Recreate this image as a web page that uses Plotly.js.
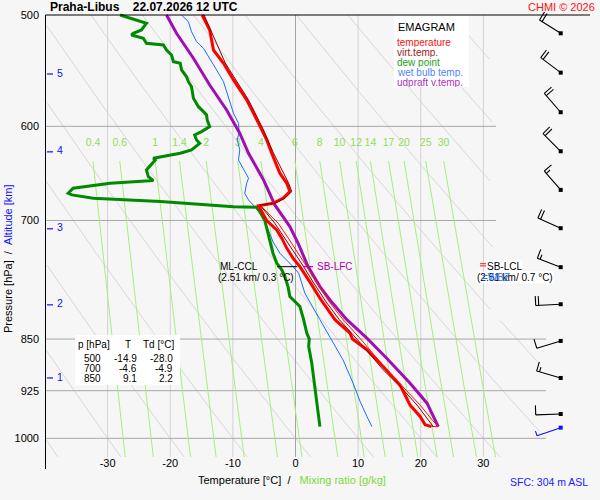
<!DOCTYPE html>
<html><head><meta charset="utf-8">
<script src="https://cdn.plot.ly/plotly-3.0.1.min.js"></script>
<style>html,body{margin:0;padding:0;background:#f6f6f6;}#chart{width:600px;height:500px;}</style>
</head><body><div id="chart"></div>
<script>
// ================= DATA =================
const stationName = 'Praha-Libus';
const runLabel = '22.07.2026 12 UTC';
const copyrightLabel = 'CHMI © 2026';
const sfcLabel = 'SFC: 304 m ASL';

// temperature profile
const tempP = [500, 512.4, 529.5, 541.1, 556.1, 565.3, 574.6, 587.3, 603.6, 613.5, 627, 647.8, 658.5, 667.6, 675, 680.5, 683.4, 691.7, 700, 710.9, 720.5, 732.4, 744.5, 754.9, 765.2, 777.8, 795, 823.4, 841.7, 850, 864.9, 889, 916.5, 947, 964.8, 978.1, 981];
const tempT = [-14.9, -13.7, -13.1, -11.5, -9.9, -8.9, -7.8, -6.7, -5.4, -4.6, -3.8, -2.5, -1.4, -0.9, -2.0, -3.6, -5.9, -5.3, -4.6, -3.0, -2.2, -1.4, -0.4, 0.7, 1.5, 2.6, 3.9, 6.3, 8.7, 9.1, 11.4, 14.0, 16.7, 18.3, 19.9, 20.7, 21.7];

// virtual temperature
const tvP = [500, 541.1, 574.6, 603.6, 627, 658.5, 667.6, 675, 680.5, 682.4, 703.2, 720.5, 738.5, 754.9, 771.6, 800, 823.4, 850, 893.9, 921.4, 947, 969.5, 981];
const tvT = [-14.6, -11.2, -7.5, -5.1, -3.5, -1.1, -0.6, -1.7, -3.3, -5.7, -3.3, -1.7, -0.1, 1.3, 2.6, 4.9, 7.0, 9.8, 14.0, 17.0, 19.4, 21.2, 22.0];

// thin red outline on the right of the boundary layer
const outlineP = [682.4, 703.2, 720.5, 738.5, 754.9, 771.6, 800, 823.4, 850, 893.9, 919, 947, 969.5, 981, 981];
const outlineT = [-5.7, -2.75, -1.15, 0.45, 1.8, 3.1, 5.4, 7.6, 10.4, 14.6, 17.2, 19.9, 21.75, 22.8, 21.7];

// dew point
const dewP = [500, 506.8, 512.4, 515.2, 516.6, 519.4, 523.7, 525.2, 529.5, 533.8, 539.7, 541.1, 547.1, 553.2, 557.7, 562.3, 573.1, 581, 585.7, 588.9, 593.8, 600.3, 605.2, 608.5, 613.5, 616.9, 623.6, 627, 632.2, 634, 644.4, 651.5, 655.7, 658.5, 664, 669.5, 671.3, 675, 678.7, 682.4, 684.3, 684.9, 689.8, 700, 709, 722.5, 738.5, 750.6, 758.9, 767.3, 780, 792.9, 799.4, 805.9, 823.4, 841.7, 850, 860.2, 884.3, 919, 954.3, 981];
const dewTd = [-28.0, -23.8, -24.6, -25.9, -26.2, -24.3, -23.8, -21.1, -20.6, -19.8, -19.5, -18.4, -18.2, -17.4, -17.1, -16.6, -16.3, -15.5, -14.7, -14.2, -14.1, -13.7, -15.0, -16.1, -15.8, -15.3, -16.6, -18.4, -22.7, -22.4, -23.8, -23.5, -22.7, -29.6, -35.5, -36.3, -35.7, -32.3, -21.6, -14.2, -9.9, -6.2, -5.7, -4.9, -4.6, -4.1, -3.6, -3.0, -2.2, -1.7, -1.2, -0.9, -0.1, 0.7, 1.3, 1.8, 2.2, 2.1, 2.6, 3.1, 3.6, 3.9];

// wet bulb temperature
const wetP = [500, 505.5, 513.9, 522.3, 528, 536.7, 547.1, 557.7, 566.9, 577.8, 587.3, 597, 605.2, 613.5, 623.6, 634, 644.4, 653.2, 658.5, 669.5, 676.9, 684.3, 697.4, 710.9, 724.7, 738.5, 746.6, 754.9, 763.1, 788.5, 823.4, 851.6, 879.7, 913.8, 941.2, 964.8, 981];
const wetT = [-18.2, -17.1, -16.6, -15.8, -14.7, -13.7, -12.6, -11.5, -11.0, -10.5, -9.9, -9.1, -9.0, -9.3, -8.9, -9.1, -8.3, -7.5, -7.8, -8.1, -7.5, -6.5, -5.1, -4.3, -3.6, -2.5, -1.4, -0.4, 0.5, 1.5, 3.9, 5.8, 7.6, 9.2, 10.3, 11.4, 12.2];

// updraft (parcel) virtual temperature
const parcelP = [500, 515.2, 536.7, 560.7, 584.1, 606.8, 627, 655, 682.4, 707, 728, 754.9, 780, 797.2, 823.4, 848.8, 877.4, 913.8, 944.1, 981];
const parcelT = [-20.6, -19.0, -16.3, -13.7, -11.0, -8.9, -7.5, -5.1, -3.3, -0.9, 0.5, 2.0, 3.9, 5.5, 8.2, 11.4, 14.6, 18.3, 21.0, 22.8];

// winds (pressure hPa, direction deg, speed kt)
const windP = [515.2, 549.5, 586.3, 625.0, 665.8, 708.9, 755.6, 802.9, 852.6, 905.9, 961.0];
const windDir = [302, 307, 319, 315, 319, 294, 291, 267, 253, 286, 268];
const windKt = [20, 20, 20, 20, 15, 20, 15, 20, 10, 15, 10];
const sfcWindP = [982.7];
const sfcWindDir = [251];
const sfcWindKt = [5];

// altitude marks (km) and their pressure
const altKm = [1, 2, 3, 4, 5];
const altP = [905.9, 803.7, 709.6, 625.6, 550.7];

// diagram grid
const pressureTicks = [500, 600, 700, 850, 925, 1000];
const isobars = [600, 700, 850, 925, 1000];
const isotherms = [-30, -20, -10, 0, 10, 20, 30];
const thetaC = [-40, -30, -20, -10, 0, 10, 20, 30, 40, 50, 60, 70, 80, 90, 100, 110, 120, 130, 140, 150, 160];
const mixRatios = [0.4, 0.6, 1, 1.4, 2, 3, 4, 6, 8, 10, 12, 14, 17, 20, 25, 30];
const mixLabels = ['0.4', '0.6', '1', '1.4', '2', '3', '4', '6', '8', '10', '12', '14', '17', '20', '25', '30'];

// table of standard levels
const tableP = [500, 700, 850];
const tableT = [-14.9, -4.6, 9.1];
const tableTd = [-28.0, -4.9, 2.2];

// special levels
const levelP = 755;          // 2.51 km
const mlCclT = 0.3;
const mlCclLabel = '(2.51 km/ 0.3 °C)';
const sbLclLabel = '(2.51 km/ 0.7 °C)';

// ================= LAYOUT GEOMETRY =================
const BG = '#f6f6f6';
const FONT = '"Liberation Sans", Arial, sans-serif';
const ML = 45, MT = 3, PW = 552, PH = 454;
const XPX = 6.2625;        // px per degC
const YPX = 1406.2;        // px per decade of pressure
const xMin = -40, xMax = xMin + PW / XPX;
const yTopLog = Math.log10(500) - (15 - MT) / YPX;
const yBotLog = Math.log10(500) + (MT + PH - 15) / YPX;
const pBot = Math.pow(10, yBotLog);
const px2x = px => (px - ML) / PW;
const py2y = py => 1 - (py - MT) / PH;
const tAtPx = px => xMin + (px - ML) / XPX;
const shiftP = (p, dypx) => p * Math.pow(10, dypx / YPX);

const traces = [];
function lineTrace(x, y, color, width, extra) {
  return Object.assign({type: 'scatter', mode: 'lines', x: x, y: y, line: {color: color, width: width},
    hoverinfo: 'skip', connectgaps: false}, extra || {});
}

// dry adiabats
(function () {
  const xs = [], ys = [];
  const n = 120;
  thetaC.forEach(th => {
    for (let i = 0; i <= n; i++) {
      const p = 500 * Math.pow(pBot / 500, i / n);
      const T = (th + 273.15) * Math.pow(p / 1000, 0.2857) - 273.15;
      const ok = T >= -40 && (T <= 31.5 || (p >= 823 && T <= 39));
      xs.push(ok ? T : null); ys.push(ok ? p : null);
    }
    xs.push(null); ys.push(null);
  });
  traces.push(lineTrace(xs, ys, '#d8d8d8', 1));
})();

// isotherms
(function () {
  const xs = [], ys = [];
  isotherms.filter(t => t !== 0).forEach(t => { xs.push(t, t, null); ys.push(500, pBot, null); });
  traces.push(lineTrace(xs, ys, '#d2d2d2', 1));
  traces.push(lineTrace([0, 0], [500, pBot], '#a4a4a4', 1));
})();

// isobars
(function () {
  const xs = [], ys = [];
  isobars.forEach(p => { const right = p >= 850 ? tAtPx(546) : tAtPx(496); xs.push(-40, right, null); ys.push(p, p, null); });
  traces.push(lineTrace(xs, ys, '#a8a8a8', 1));
})();

// mixing ratio lines
function tdFromMix(w, p) {
  const e = w * p / (622 + w);
  const l = Math.log(e / 6.112);
  return 243.5 * l / (17.67 - l);
}
const mixTopP = 635, mixLabelP = 617;
(function () {
  const xs = [], ys = [];
  const n = 20;
  mixRatios.forEach(w => {
    for (let i = 0; i <= n; i++) {
      const p = mixTopP * Math.pow(pBot / mixTopP, i / n);
      xs.push(tdFromMix(w, p)); ys.push(p);
    }
    xs.push(null); ys.push(null);
  });
  traces.push(lineTrace(xs, ys, '#a6f07c', 1));
  traces.push({type: 'scatter', mode: 'text', x: mixRatios.map(w => tdFromMix(w, mixTopP)), y: mixRatios.map(() => mixLabelP),
    text: mixLabels, textfont: {color: '#92dc58', size: 10.5, family: FONT}, hoverinfo: 'skip', cliponaxis: false});
})();

// altitude marks
(function () {
  const xs = [], ys = [];
  altP.forEach(p => { xs.push(tAtPx(47), tAtPx(53), null); ys.push(p, p, null); });
  traces.push(lineTrace(xs, ys, '#1010ff', 1.2));
  traces.push({type: 'scatter', mode: 'text', x: altP.map(() => tAtPx(60)), y: altP, text: altKm.map(String),
    textfont: {color: '#1010ff', size: 10.5, family: FONT}, hoverinfo: 'skip', cliponaxis: false});
})();

// profiles
traces.push(lineTrace(wetT, wetP, '#1a6cff', 1));
traces.push(lineTrace(dewTd, dewP, '#008a00', 3));
traces.push(lineTrace(parcelT, parcelP, '#a010b0', 3));
traces.push(lineTrace(tempT, tempP, '#ff0000', 3));
traces.push(lineTrace(outlineT, outlineP, '#ff1010', 1));
traces.push(lineTrace(tvT, tvP, '#8b0000', 1));

// level markers
traces.push(lineTrace([tAtPx(277), mlCclT], [levelP, levelP], '#000000', 1));
traces.push(lineTrace([tAtPx(303), tAtPx(313)], [levelP, levelP], '#b000b0', 1.2));
traces.push(lineTrace([tAtPx(480), tAtPx(486), null, tAtPx(480), tAtPx(486)],
  [shiftP(levelP, -3), shiftP(levelP, -3), null, shiftP(levelP, -0.8), shiftP(levelP, -0.8)], '#ff2020', 1));

// wind barbs
const barbColT = tAtPx(560.7);
function barbs(P, D, S, color) {
  const xs = [], ys = [];
  const staff = 25, gap = 3, full = 9.5, half = 5;
  P.forEach((p, i) => {
    const d = D[i] * Math.PI / 180;
    const ux = Math.sin(d), uy = -Math.cos(d);
    const px = -uy, py = ux;
    const pt = (dx, dy) => [barbColT + dx / XPX, shiftP(p, dy)];
    const a = pt(0, 0), b = pt(ux * staff, uy * staff);
    xs.push(a[0], b[0], null); ys.push(a[1], b[1], null);
    let nFull = Math.floor(S[i] / 10), nHalf = (S[i] % 10) >= 5 ? 1 : 0;
    let k = 0;
    for (let f = 0; f < nFull; f++, k++) {
      const s = staff - gap * k;
      const c = pt(ux * s, uy * s), e = pt(ux * s + px * full, uy * s + py * full);
      xs.push(c[0], e[0], null); ys.push(c[1], e[1], null);
    }
    for (let h = 0; h < nHalf; h++, k++) {
      const s = staff - gap * k;
      const c = pt(ux * s, uy * s), e = pt(ux * s + px * half, uy * s + py * half);
      xs.push(c[0], e[0], null); ys.push(c[1], e[1], null);
    }
  });
  traces.push(lineTrace(xs, ys, color, 1.1));
  traces.push({type: 'scatter', mode: 'markers', x: P.map(() => barbColT), y: P,
    marker: {symbol: 'square', size: 4, color: color}, hoverinfo: 'skip', cliponaxis: false});
}
barbs(windP, windDir, windKt, '#000000');
barbs(sfcWindP, sfcWindDir, sfcWindKt, '#1010ff');

// ================= ANNOTATIONS / SHAPES =================
const ann = [];
function note(text, px, py, opts) {
  ann.push(Object.assign({xref: 'paper', yref: 'paper', x: px2x(px), y: py2y(py), text: text, showarrow: false,
    xanchor: 'left', yanchor: 'middle', font: {family: FONT, size: 10, color: '#000'}}, opts || {}));
}
note('<b>' + stationName + '</b>&nbsp;&nbsp;&nbsp;&nbsp;<b>' + runLabel + '</b>', 48, 7, {font: {family: FONT, size: 12, color: '#000'}});
note(copyrightLabel, 597, 7, {xanchor: 'right', font: {family: FONT, size: 11, color: '#ff1010'}});
note('Pressure [hPa]&nbsp;&nbsp;/&nbsp;&nbsp;<span style="color:#1010ff">Altitude [km]</span>', 8, 259,
  {xanchor: 'center', textangle: -90, font: {family: FONT, size: 11, color: '#000'}});
note('Temperature [°C]&nbsp;&nbsp;/&nbsp;&nbsp;&nbsp;<span style="color:#7ed83a">Mixing ratio [g/kg]</span>', 292, 480,
  {xanchor: 'center', font: {family: FONT, size: 11, color: '#000'}});
note(sfcLabel, 590, 482, {xanchor: 'right', font: {family: FONT, size: 10.5, color: '#2020ff'}});

// legend
note('EMAGRAM', 396, 27, {font: {family: FONT, size: 11, color: '#000'}});
const legItems = [['temperature', '#ff1010'], ['virt.temp.', '#a01818'], ['dew point', '#22a022'], ['wet bulb temp.', '#4a86ff'], ['udpraft v.temp.', '#b030c0']];
legItems.forEach((it, i) => note(it[0], 396, 42 + 10 * i, {height: 10, borderpad: 0, valign: 'middle', font: {family: FONT, size: 10, color: it[1]}}));

// table
note('p [hPa]', 77, 344, {height: 11, borderpad: 0});
note('T', 128, 344, {xanchor: 'center', height: 11, borderpad: 0});
note('Td [°C]', 142, 344, {height: 11, borderpad: 0});
tableP.forEach((p, i) => {
  const y = 358 + 10 * i;
  const o = {xanchor: 'right', height: 10, borderpad: 0};
  note(String(p), 102, y, o);
  note(tableT[i].toFixed(1), 137.5, y, o);
  note(tableTd[i].toFixed(1), 174, y, o);
});

// level labels
const lvlY = Math.log10(levelP);
function dnote(text, T, opts) {
  ann.push(Object.assign({xref: 'x', yref: 'y', x: T, y: lvlY, text: text, showarrow: false, xanchor: 'left', yanchor: 'middle',
    font: {family: FONT, size: 10, color: '#000'}}, opts || {}));
}
dnote('ML-CCL', tAtPx(260), {xanchor: 'right', yshift: 0});
dnote(mlCclLabel, tAtPx(296), {xanchor: 'right', yshift: -11});
dnote('SB-LFC', tAtPx(315), {font: {family: FONT, size: 10, color: '#b000b0'}});
dnote('SB-LCL', tAtPx(486), {bgcolor: '#ffffff', borderpad: 0});
dnote(sbLclLabel, tAtPx(476), {yshift: -11, bgcolor: '#ffffff', borderpad: 0});
dnote('=WBZ', tAtPx(480), {yshift: -11, font: {family: FONT, size: 10, color: '#2a70ff'}});

const shapes = [
  {type: 'rect', xref: 'paper', yref: 'paper', x0: px2x(394), x1: px2x(469), y0: py2y(15), y1: py2y(87), fillcolor: '#ffffff', line: {width: 0}, layer: 'above'},
  {type: 'rect', xref: 'paper', yref: 'paper', x0: px2x(75), x1: px2x(180), y0: py2y(335), y1: py2y(385), fillcolor: '#ffffff', line: {width: 0}, layer: 'above'},
  {type: 'line', xref: 'paper', yref: 'paper', x0: px2x(45.5), x1: px2x(590), y0: py2y(15), y1: py2y(15), line: {color: '#000', width: 1}, layer: 'above'},
  {type: 'line', xref: 'paper', yref: 'paper', x0: px2x(45.5), x1: px2x(45.5), y0: py2y(15), y1: py2y(469), line: {color: '#000', width: 1}, layer: 'above'}
];

const layout = {
  width: 600, height: 500,
  margin: {l: ML, r: 600 - ML - PW, t: MT, b: 500 - MT - PH, pad: 0},
  paper_bgcolor: BG, plot_bgcolor: BG,
  showlegend: false, hovermode: false,
  font: {family: FONT, size: 11, color: '#000'},
  xaxis: {range: [xMin, xMax], tickmode: 'array', tickvals: isotherms, ticktext: isotherms.map(t => String(t)),
    showgrid: false, zeroline: false, showline: false, ticks: '', tickfont: {family: FONT, size: 11, color: '#000'},
    ticklabelstandoff: -2, fixedrange: true},
  yaxis: {type: 'log', range: [yBotLog, yTopLog], tickmode: 'array', tickvals: pressureTicks, ticktext: pressureTicks.map(String),
    showgrid: false, zeroline: false, showline: false, ticks: '', tickfont: {family: FONT, size: 11, color: '#000'},
    ticklabelstandoff: 5, fixedrange: true},
  shapes: shapes,
  annotations: ann
};

Plotly.newPlot('chart', traces, layout, {staticPlot: true, displayModeBar: false});
</script>
</body></html>
